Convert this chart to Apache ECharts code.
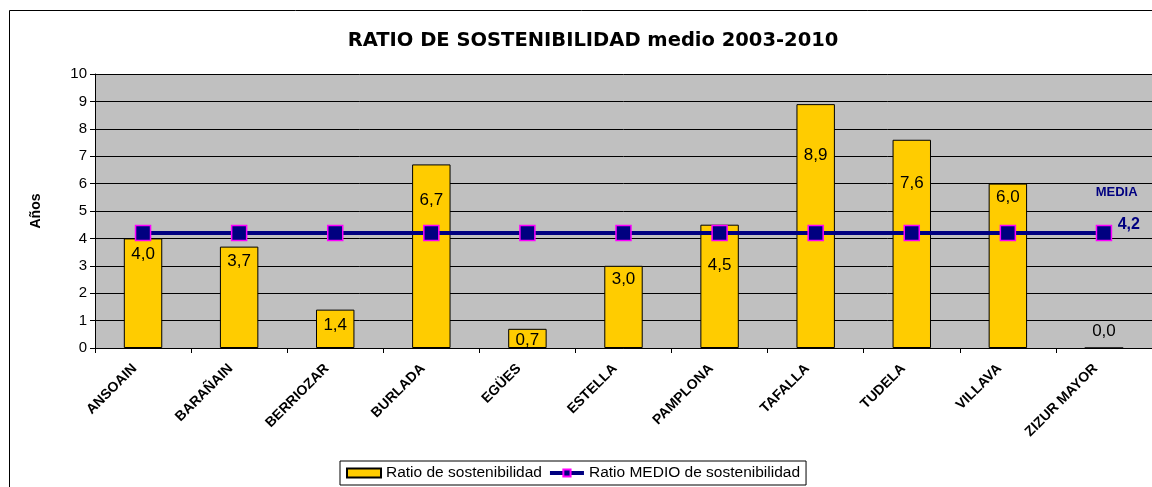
<!DOCTYPE html>
<html>
<head>
    <meta charset="utf-8">
    <script src="https://cdn.jsdelivr.net/npm/echarts@6/dist/echarts.min.js"></script>
</head>
<body style="margin:0">

    <div id="main" style="width:1152px;height:487px;"></div>

<script type="text/javascript">
var municipios = ['ANSOAIN', 'BARAÑAIN', 'BERRIOZAR', 'BURLADA', 'EGÜES', 'ESTELLA',
                  'PAMPLONA', 'TAFALLA', 'TUDELA', 'VILLAVA', 'ZIZUR MAYOR'];
var ratio = [4.0, 3.7, 1.4, 6.7, 0.7, 3.0, 4.5, 8.9, 7.6, 6.0, 0.0];
var ratioMedio = [4.2, 4.2, 4.2, 4.2, 4.2, 4.2, 4.2, 4.2, 4.2, 4.2, 4.2];
var yTicks = [0, 10, 1];   // min, max, interval

// distancia (px) del centro de cada etiqueta al borde superior de su barra (movidas a mano en el original)
var bajadaEtiqueta = [16, 15, 16, 36, 12, 14, 41, 52, 44, 14, 0];

function coma(v) {
    return v.toFixed(1).replace('.', ',');
}

var myChart = echarts.init(document.getElementById('main'));

var barData = ratio.map(function (v, i) {
    if (v === 0) {
        // la etiqueta del 0 queda encima del eje
        return { value: v, label: { position: 'top', distance: 8 } };
    }
    return { value: v, label: { offset: [0, bajadaEtiqueta[i] - 9] } };
});

var lineData = ratioMedio.map(function (v, i) {
    if (i === ratioMedio.length - 1) {
        return {
            value: v,
            label: {
                show: true,
                position: [0, -40],
                align: 'left',
                formatter: function (p) { return '{m|MEDIA}\n{v|' + coma(p.value) + '}'; },
                rich: {
                    m: { fontFamily: 'Arial', fontSize: 13, fontWeight: 'bold', color: '#000080', lineHeight: 16 },
                    v: { fontFamily: 'Arial', fontSize: 16, fontWeight: 'bold', color: '#000080', lineHeight: 47, padding: [0, 0, 0, 22] }
                }
            }
        };
    }
    return v;
});

myChart.setOption({
    backgroundColor: '#fff',
    animation: false,
    textStyle: { fontFamily: 'Arial' },
    title: {
        text: 'RATIO DE SOSTENIBILIDAD medio 2003-2010',
        left: 588,
        textAlign: 'center',
        top: 26,
        textStyle: { fontFamily: 'DejaVu Sans', fontSize: 19.5, fontWeight: 'bold', color: '#000' }
    },
    graphic: [{
        type: 'rect',
        shape: { x: 9.5, y: 10.5, width: 1200, height: 600 },
        style: { fill: 'none', stroke: '#000', lineWidth: 1 },
        silent: true,
        z: -1
    }],
    legend: {
        bottom: 2,
        left: 340,
        itemGap: 6,
        padding: [4, 6, 4, 6],
        borderColor: '#000',
        borderWidth: 1,
        borderRadius: 0,
        itemWidth: 34,
        itemHeight: 9,
        textStyle: { fontFamily: 'Arial', fontSize: 15.5, color: '#000' },
        data: [
            { name: 'Ratio de sostenibilidad', icon: 'rect' },
            { name: 'Ratio MEDIO de sostenibilidad', lineStyle: { width: 4, color: '#000080' } }
        ]
    },
    grid: {
        left: 95,
        right: -3,
        top: 74,
        bottom: 139,
        show: true,
        backgroundColor: '#C0C0C0',
        borderWidth: 0
    },
    xAxis: {
        type: 'category',
        data: municipios,
        axisLine: { lineStyle: { color: '#000' } },
        axisTick: { show: true, length: 5, lineStyle: { color: '#000' } },
        axisLabel: {
            rotate: 45,
            interval: 0,
            margin: 10,
            padding: [0, 12, 0, 0],
            fontFamily: 'Arial',
            fontSize: 14,
            fontWeight: 'bold',
            color: '#000'
        }
    },
    yAxis: {
        type: 'value',
        name: 'Años',
        nameLocation: 'middle',
        nameGap: 52,
        nameRotate: 90,
        nameTextStyle: { fontFamily: 'Arial', fontSize: 14, fontWeight: 'bold', color: '#000' },
        min: yTicks[0],
        max: yTicks[1],
        interval: yTicks[2],
        axisLine: { show: true, lineStyle: { color: '#000' } },
        axisTick: { show: true, length: 5, lineStyle: { color: '#000' } },
        axisLabel: { fontFamily: 'Arial', fontSize: 15, color: '#000', margin: 8 },
        splitLine: { lineStyle: { color: '#000', width: 1 } }
    },
    series: [
        {
            name: 'Ratio de sostenibilidad',
            type: 'bar',
            data: barData,
            barWidth: '40%',
            itemStyle: { color: '#FFCC00', borderColor: '#000', borderWidth: 1 },
            label: {
                show: true,
                position: 'insideTop',
                distance: 0,
                formatter: function (p) { return coma(p.value); },
                fontFamily: 'Arial',
                fontSize: 17,
                color: '#000'
            },
            z: 2
        },
        {
            name: 'Ratio MEDIO de sostenibilidad',
            type: 'line',
            data: lineData,
            symbol: 'rect',
            symbolSize: 15,
            lineStyle: { color: '#000080', width: 4 },
            itemStyle: { color: '#000080', borderColor: '#FF00FF', borderWidth: 1.5 },
            z: 3
        }
    ]
});
</script>

</body>
</html>
